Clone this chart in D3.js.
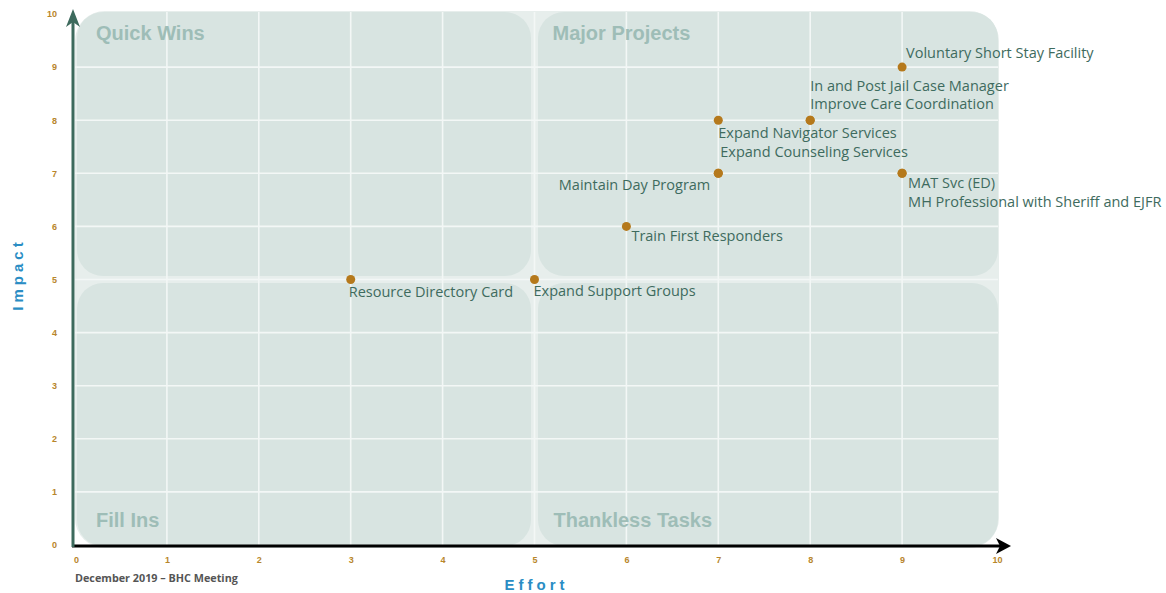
<!DOCTYPE html>
<html><head><meta charset="utf-8">
<script src="https://cdn.jsdelivr.net/npm/d3@7"></script>
<style>body{margin:0;background:#fff}svg{display:block}</style>
</head><body>
<svg id="chart" width="1166" height="593"></svg>
<script>
// ---- data ----
const items = ["Voluntary Short Stay Facility","In and Post Jail Case Manager","Improve Care Coordination","Expand Navigator Services","Expand Counseling Services","Maintain Day Program","MAT Svc (ED)","MH Professional with Sheriff and EJFR","Train First Responders","Resource Directory Card","Expand Support Groups"];
const effort = [9,8,8,7,7,7,9,9,6,3,5];
const impact = [9,8,8,8,7,7,7,7,6,5,5];
const xTicks = [0,1,2,3,4,5,6,7,8,9,10];
const yTicks = [0,1,2,3,4,5,6,7,8,9,10];
const quadrantNames = ["Quick Wins","Major Projects","Fill Ins","Thankless Tasks"];
const xTitle = "Effort", yTitle = "Impact", footnote = "December 2019 \u2013 BHC Meeting";

// label placement (style): dx, dy, anchor
const place = {
 "Voluntary Short Stay Facility":[4,-9,"start"],
 "In and Post Jail Case Manager":[0,-29,"start"],
 "Improve Care Coordination":[0,-11,"start"],
 "Expand Navigator Services":[0,18,"start"],
 "Expand Counseling Services":[2,-16,"start"],
 "Maintain Day Program":[-8,17,"end"],
 "MAT Svc (ED)":[6,15,"start"],
 "MH Professional with Sheriff and EJFR":[6,34,"start"],
 "Train First Responders":[5,15,"start"],
 "Resource Directory Card":[-2,17,"start"],
 "Expand Support Groups":[-1,16,"start"]
};

const svg = d3.select("#chart");
const x = d3.scaleLinear([0,10],[75,994]);
const y = d3.scaleLinear([0,10],[545,14]);

// outer background
svg.append("rect").attr("x",x(0)).attr("y",y(10)-3).attr("width",x(10)-x(0)+5).attr("height",y(0)-y(10)+6)
  .attr("rx",30).attr("fill","#e7eeec");
// quadrants
const g = 3.5;
const quads = [
 {x0:0,x1:5,y0:5,y1:10},{x0:5,x1:10,y0:5,y1:10},{x0:0,x1:5,y0:0,y1:5},{x0:5,x1:10,y0:0,y1:5}
];
quads.forEach((q,i)=>{
  const l = x(q.x0)+(q.x0===0?2:g), r = x(q.x1)+(q.x1===10?4:-g);
  const t = y(q.y1)+(q.y1===10?-2:g), b = y(q.y0)-(q.y0===0?-1:g);
  svg.append("rect").attr("x",l).attr("y",t).attr("width",r-l).attr("height",b-t).attr("rx",26).attr("fill","#d8e4e1");
});
// grid
const grid = svg.append("g").attr("stroke","#f3f7f6").attr("stroke-width",1.6);
xTicks.filter(d=>d>0&&d<10).forEach(d=>grid.append("line").attr("x1",x(d)).attr("x2",x(d)).attr("y1",y(0)).attr("y2",y(10)-2));
yTicks.filter(d=>d>0&&d<10).forEach(d=>grid.append("line").attr("x1",x(0)).attr("x2",x(10)+4).attr("y1",y(d)).attr("y2",y(d)));

// quadrant labels
const qlab = [[x(0)+21,y(10)+26],[x(5)+18,y(10)+26],[x(0)+21,y(0)-18],[x(5)+19,y(0)-18]];
quadrantNames.forEach((n,i)=>svg.append("text").attr("x",qlab[i][0]).attr("y",qlab[i][1]).text(n)
  .attr("font-family","Liberation Sans, Arial, sans-serif").attr("font-weight","bold").attr("font-size",20).attr("fill","#9ebdb7"));

// axes ticks via d3 axis
const xAxis = d3.axisBottom(x).tickValues(xTicks).tickSize(0).tickPadding(12);
const xa = svg.append("g").attr("transform",`translate(0,${y(0)})`).call(xAxis);
xa.select(".domain").remove();
xa.selectAll("text").attr("font-family","Liberation Sans, Arial, sans-serif").attr("font-weight","bold").attr("font-size",9).attr("fill","#b8862b");
xa.selectAll(".tick").filter(d=>d===0).select("text").attr("dx",1);
xa.selectAll(".tick").filter(d=>d===10).select("text").attr("dx",3);
const yAxis = d3.axisLeft(y).tickValues(yTicks).tickSize(0).tickPadding(18);
const ya = svg.append("g").attr("transform",`translate(${x(0)},0)`).call(yAxis);
ya.select(".domain").remove();
ya.selectAll("text").attr("font-family","Liberation Sans, Arial, sans-serif").attr("font-weight","bold").attr("font-size",9).attr("fill","#b8862b");

// axis lines with arrows
svg.append("line").attr("x1",x(0)-3).attr("x2",x(10)+11).attr("y1",y(0)+1).attr("y2",y(0)+1).attr("stroke","#000").attr("stroke-width",3);
svg.append("path").attr("d",`M${x(10)+17},${y(0)+1} L${x(10)+2},${y(0)-7} L${x(10)+6},${y(0)+1} L${x(10)+2},${y(0)+9} Z`).attr("fill","#000");
svg.append("line").attr("x1",x(0)-2).attr("x2",x(0)-2).attr("y1",y(0)+2).attr("y2",y(10)+2).attr("stroke","#3d6a5d").attr("stroke-width",3);
svg.append("path").attr("d",`M${x(0)-2},${y(10)-5} L${x(0)-9},${y(10)+13} L${x(0)-2},${y(10)+8} L${x(0)+5},${y(10)+13} Z`).attr("fill","#3d6a5d");

// points and labels
items.forEach((n,i)=>{
  const px = x(effort[i]), py = y(impact[i]);
  svg.append("circle").attr("cx",px).attr("cy",py).attr("r",4.5).attr("fill","#b5791c");
  const p = place[n];
  svg.append("text").attr("x",px+p[0]).attr("y",py+p[1]).attr("text-anchor",p[2]).text(n)
    .attr("font-family","Open Sans, sans-serif").attr("font-size",14.5).attr("fill","#3e6b5e");
});

// titles
svg.append("text").attr("transform",`translate(23,${y(5)-5}) rotate(-90)`).attr("text-anchor","middle").text(yTitle)
  .attr("font-family","Liberation Sans, Arial, sans-serif").attr("font-weight","bold").attr("font-size",15).attr("letter-spacing",4).attr("fill","#2a8dc4");
svg.append("text").attr("x",x(5)+2).attr("y",590).attr("text-anchor","middle").text(xTitle)
  .attr("font-family","Liberation Sans, Arial, sans-serif").attr("font-weight","bold").attr("font-size",15).attr("letter-spacing",4).attr("fill","#2a8dc4");
svg.append("text").attr("x",75).attr("y",582).text(footnote)
  .attr("font-family","Open Sans, sans-serif").attr("font-weight","bold").attr("font-size",10.8).attr("fill","#555");
</script>
</body></html>
